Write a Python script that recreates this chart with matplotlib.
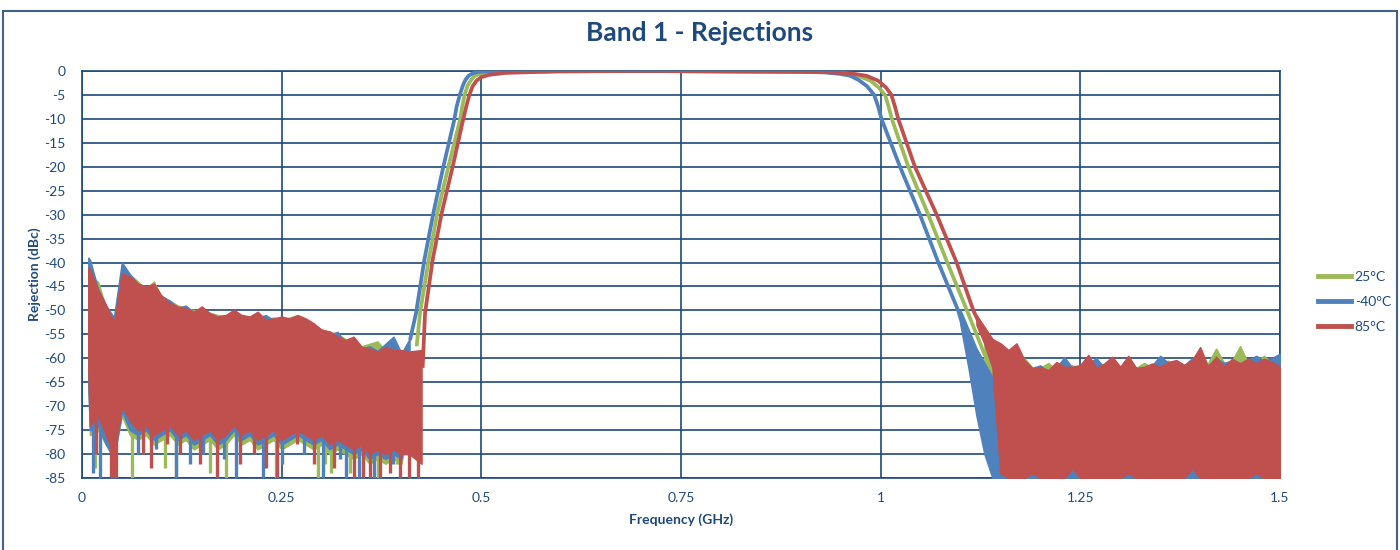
import matplotlib
matplotlib.use('Agg')
import matplotlib.pyplot as plt
from matplotlib.lines import Line2D
from matplotlib.patches import Rectangle
import numpy as np

plt.rcParams['font.family'] = ['Lato', 'DejaVu Sans']
plt.rcParams['axes.unicode_minus'] = False

nan = np.nan

# smooth part of each trace (GHz, dB)
f_pass_25 = [0.419, 0.4232, 0.434, 0.4449, 0.4587, 0.4732, 0.476, 0.479, 0.483, 0.487, 0.492, 0.50, 0.515,
             0.54, 0.60, 0.70, 0.80, 0.90, 0.93, 0.955, 0.972, 0.987, 0.998, 1.006, 1.010, 1.014, 1.0346,
             1.0596, 1.0834, 1.108, 1.120, 1.132]
db_pass_25 = [-57.5, -50.6, -39.5, -29.7, -20.0, -10.3, -7.5, -5.0, -3.0, -1.9, -1.0, -0.5, -0.2,
              -0.1, 0.0, 0.0, -0.1, -0.15, -0.2, -0.5, -1.0, -2.0, -3.5, -5.2, -7.5, -10.0, -20.0,
              -30.0, -40.0, -50.0, -55.0, -60.0]

f_pass_m40 = [0.4107, 0.4182, 0.4286, 0.4399, 0.4524, 0.466, 0.469, 0.473, 0.477, 0.480, 0.484, 0.489,
              0.496, 0.51, 0.60, 0.70, 0.80, 0.90, 0.93, 0.9488, 0.962, 0.9727, 0.983, 0.9919, 0.997,
              1.001, 1.0242, 1.0492, 1.0722, 1.097, 1.106]
db_pass_m40 = [-56.2, -50.6, -39.5, -29.7, -20.0, -10.3, -7.5, -5.0, -3.0, -1.9, -1.0, -0.5,
               -0.2, -0.05, 0.0, 0.0, -0.1, -0.15, -0.3, -0.6, -1.0, -1.9, -3.2, -5.0, -7.5,
               -10.0, -20.0, -30.0, -40.0, -50.0, -55.0]

f_pass_85 = [0.4265, 0.4295, 0.439, 0.4503, 0.4641, 0.477, 0.481, 0.485, 0.489, 0.494, 0.50, 0.51, 0.53,
             0.56, 0.60, 0.70, 0.80, 0.90, 0.93, 0.963, 0.982, 0.9966, 1.007, 1.0134, 1.018, 1.022,
             1.0429, 1.0701, 1.0951, 1.116, 1.130, 1.142]
db_pass_85 = [-62.0, -50.6, -39.5, -29.7, -20.0, -10.3, -7.5, -5.0, -3.2, -2.0, -1.3, -0.8, -0.4,
              -0.25, -0.1, 0.0, -0.05, -0.15, -0.2, -0.5, -1.0, -2.0, -3.5, -5.0, -7.5, -10.0,
              -20.0, -30.0, -40.0, -50.0, -55.0, -57.0]

# noisy stop band below the passband: top edge / solid bottom edge
f_low = [0.008, 0.01, 0.02, 0.03, 0.04, 0.05, 0.06, 0.07, 0.08, 0.09, 0.10, 0.11, 0.12, 0.13, 0.14,
         0.15, 0.16, 0.17, 0.18, 0.19, 0.20, 0.21, 0.22, 0.23, 0.24, 0.25, 0.26, 0.27, 0.28, 0.29,
         0.30, 0.31, 0.32, 0.33, 0.34, 0.35, 0.36, 0.37, 0.38, 0.39, 0.40, 0.41, 0.425]

hi_low_25 = [-42, -43, -44, -49.5, -53, -41.0, -42.5, -44.0, -45.5, -44.0, -47.5, -48.0, -49.0, -49.5,
             -50.0, -50.0, -50.5, -51.0, -51.0, -51.5, -51.0, -51.5, -51.0, -52.0, -51.5, -52.0, -51.5,
             -51.0, -52.0, -53.0, -54.0, -54.5, -55.0, -56.0, -56.5, -57.5, -57.0, -56.5, -58.5, -58.5,
             -59.0, -59.0, nan]
lo_low_25 = [-64, -76, -75, -78, -80, -72, -76, -77, -76, -78, -77, -76, -78, -77, -79, -78, -77, -79,
             -78, -76, -78, -77, -79, -78, -77, -79, -78, -77, -78, -79, -78, -80, -79, -80, -81, -80,
             -82, -81, -82, -81, -82, -72, nan]

hi_low_m40 = [-39.0, -39.5, -45.5, -49.0, -51.5, -40.0, -42.5, -44.5, -45.0, -46.5, -47.0, -48.0, -49.5,
              -49.0, -50.5, -50.0, -51.0, -51.5, -51.0, -51.5, -51.0, -51.5, -51.5, -51.0, -52.0, -51.8,
              -52.0, -52.5, -52.0, -53.5, -54.0, -55.0, -54.5, -57.0, -56.0, -58.0, -57.5, -58.5, -57.0,
              -55.5, -59.0, -56.0, nan]
lo_low_m40 = [-66, -75, -74, -78, -81, -71, -75, -76, -75, -77, -76, -75, -77, -76, -78, -77, -76, -78,
              -77, -75, -77, -76, -78, -77, -76, -78, -77, -76, -77, -78, -77, -79, -78, -79, -80, -79,
              -81, -80, -81, -80, -81, -68, nan]

hi_low_85 = [-41.0, -41.6, -45.7, -48.9, -52.7, -42.3, -43.0, -44.4, -45.1, -44.4, -47.1, -48.5, -49.2,
             -49.6, -50.3, -49.2, -50.6, -51.3, -51.0, -49.9, -51.0, -51.3, -50.3, -52.0, -51.7, -51.3,
             -51.7, -51.0, -51.7, -52.7, -54.1, -54.4, -55.5, -56.2, -55.5, -57.6, -58.0, -58.6, -57.6,
             -58.3, -58.3, -58.6, -58.3]
lo_low_85 = [-62, -74, -72, -76, -80, -70, -73, -75, -74, -76, -75, -74, -76, -75, -77, -76, -75, -77,
             -76, -74, -76, -75, -77, -76, -75, -77, -76, -75, -76, -77, -76, -78, -77, -78, -79, -78,
             -80, -79, -80, -79, -80, -80, -82]

# deep single spikes below the solid part (GHz, lowest dB)
spk_f_25 = [0.016, 0.063, 0.104, 0.118, 0.160, 0.180, 0.243, 0.296, 0.304, 0.312, 0.335, 0.370, 0.395]
spk_db_25 = [-83, -85, -83, -85, -84, -85, -85, -85, -82, -84, -84, -85, -82]
spk_f_m40 = [0.014, 0.022, 0.070, 0.093, 0.118, 0.135, 0.152, 0.178, 0.193, 0.227, 0.250, 0.278,
             0.302, 0.323, 0.330, 0.347, 0.366, 0.390, 0.400]
spk_db_m40 = [-84, -85, -80, -79, -85, -82, -80, -81, -85, -85, -82, -80, -85, -81, -85, -85, -85,
              -82, -80]
spk_f_85 = [0.018, 0.036, 0.040, 0.043, 0.077, 0.087, 0.106, 0.123, 0.148, 0.169, 0.198, 0.215, 0.231,
            0.244, 0.269, 0.290, 0.315, 0.340, 0.352, 0.361, 0.373, 0.386, 0.398, 0.409, 0.421]
spk_db_85 = [-80, -85, -85, -85, -80, -83, -78, -80, -82, -85, -82, -80, -83, -85, -78, -82, -83, -85,
             -85, -85, -85, -84, -85, -85, -85]

# noisy stop band above the passband
f_high = [1.10, 1.11, 1.12, 1.13, 1.14, 1.15, 1.16, 1.17, 1.18, 1.19, 1.20, 1.21, 1.22, 1.23, 1.24,
          1.25, 1.26, 1.27, 1.28, 1.29, 1.30, 1.31, 1.32, 1.33, 1.34, 1.35, 1.36, 1.37, 1.38, 1.39,
          1.40, 1.41, 1.42, 1.43, 1.44, 1.45, 1.46, 1.47, 1.48, 1.49, 1.50]

hi_high_25 = [nan, nan, nan, -56.0, -58.5, -61, -62, -61.5, -60, -62, -62, -61, -62.5, -62, -61.5, -62,
              -61.5, -61, -62, -61.5, -62, -61.5, -62, -61, -62, -61, -60.5, -61.5, -62, -61, -61.5, -61,
              -58, -61, -60.5, -57.5, -61, -60.5, -59.5, -61, -60.5]
lo_high_25 = [nan, nan, nan, -62, -85, -85, -85, -85, -85, -85, -85, -85, -85, -85, -85, -85, -85, -85,
              -85, -85, -85, -85, -85, -85, -85, -85, -85, -85, -85, -85, -85, -85, -85, -85, -85, -85,
              -85, -85, -85, -85, -85]

hi_high_m40 = [-50, -54, -58, -61, -64, -62, -63, -59.7, -62, -62, -61.5, -63, -62, -59.8, -62, -62, -61,
               -60.0, -62, -61, -62, -60.5, -62, -62, -61.5, -59.5, -61, -60.5, -61.5, -60, -61, -61.5,
               -60, -61, -60.5, -61, -60.5, -59.5, -60.5, -60, -59.0]
lo_high_m40 = [-53, -62, -72, -80, -85, -85, -85, -85, -85, -85, -85, -85, -85, -85, -85, -85, -85, -85,
               -85, -85, -85, -85, -85, -85, -85, -85, -85, -85, -85, -85, -85, -85, -85, -85, -85, -85,
               -85, -85, -85, -85, -85]

hi_high_85 = [nan, nan, -51.0, -53.5, -56.0, -56.9, -58.3, -56.9, -60.4, -62.1, -61.8, -62.5, -60.8, -61.8,
              -61.8, -61.4, -59.3, -62.1, -61.1, -59.7, -61.8, -59.5, -62.1, -61.8, -61.1, -61.8, -60.8,
              -60.4, -61.4, -60.4, -57.7, -61.8, -59.7, -61.8, -60.1, -61.1, -60.1, -61.1, -60.1, -60.8,
              -61.8]
lo_high_85 = [nan, nan, -53.0, -57.0, -62.0, -84, -85, -85, -85, -84, -85, -85, -85, -85, -83, -85, -85,
              -85, -85, -85, -85, -84, -85, -85, -85, -85, -85, -85, -85, -83, -85, -85, -85, -85, -85,
              -85, -85, -84, -85, -85, -85]

series = [
    ('25°C', '#9BBB59', f_pass_25, db_pass_25, hi_low_25, lo_low_25, spk_f_25, spk_db_25,
     hi_high_25, lo_high_25),
    ('-40°C', '#4F81BD', f_pass_m40, db_pass_m40, hi_low_m40, lo_low_m40, spk_f_m40, spk_db_m40,
     hi_high_m40, lo_high_m40),
    ('85°C', '#C0504D', f_pass_85, db_pass_85, hi_low_85, lo_low_85, spk_f_85, spk_db_85,
     hi_high_85, lo_high_85),
]

navy = '#1F497D'
fig = plt.figure(figsize=(14, 5.5), dpi=100)
ax = fig.add_axes([82 / 1400, 1 - 478 / 550, (1280 - 82) / 1400, (478 - 71) / 550])

handles = []
for label, clr, fp, dbp, hl, ll, sf, sdb, hh, lh in series:
    ax.fill_between(f_low, np.array(ll, float), np.array(hl, float), color=clr, linewidth=1.2,
                    edgecolor=clr, zorder=3)
    ax.vlines(sf, sdb, -70, color=clr, linewidth=2.4, zorder=3)
    ax.fill_between(f_high, np.array(lh, float), np.array(hh, float), color=clr, linewidth=1.2,
                    edgecolor=clr, zorder=3)
    ax.plot(fp, dbp, color=clr, linewidth=2.7, solid_capstyle='butt', zorder=3)
    handles.append(Line2D([], [], color=clr, linewidth=3.5, label=label))

ax.set_xlim(0, 1.5)
ax.set_ylim(-85, 0)
ax.set_xticks([0, 0.25, 0.5, 0.75, 1, 1.25, 1.5])
ax.set_xticklabels(['0', '0.25', '0.5', '0.75', '1', '1.25', '1.5'])
ax.set_yticks(np.arange(-85, 1, 5))
ax.set_yticklabels([str(v) for v in np.arange(-85, 1, 5)])
ax.tick_params(length=0, labelsize=10, labelcolor=navy)
ax.tick_params(axis='y', pad=12)
ax.tick_params(axis='x', pad=10)
ax.grid(True, color=navy, linewidth=1.2, zorder=1)
ax.set_axisbelow(True)
for sp in ax.spines.values():
    sp.set_color(navy)
    sp.set_linewidth(1.2)

fig.text(0.5, 1 - 33 / 550, 'Band 1 - Rejections', ha='center', va='center', fontsize=19,
         fontweight='bold', color=navy)
fig.text(681 / 1400, 1 - 520 / 550, 'Frequency (GHz)', ha='center', va='center', fontsize=10,
         fontweight='bold', color=navy)
fig.text(35 / 1400, 1 - 274.5 / 550, 'Rejection (dBc)', ha='center', va='center', fontsize=10,
         fontweight='bold', color=navy, rotation=90)

fig.legend(handles=handles, loc='center left', bbox_to_anchor=(1311 / 1400, 1 - 302 / 550),
           frameon=False, fontsize=10, handlelength=2.4, handletextpad=0.25, labelspacing=0.95,
           borderpad=0, labelcolor=navy)

fig.patches.append(Rectangle((3 / 1400, -0.02), 1394 / 1400, 1.0, transform=fig.transFigure,
                             fill=False, edgecolor='#41618C', linewidth=1.5))

plt.savefig('out.png', dpi=100)
print('Done')
